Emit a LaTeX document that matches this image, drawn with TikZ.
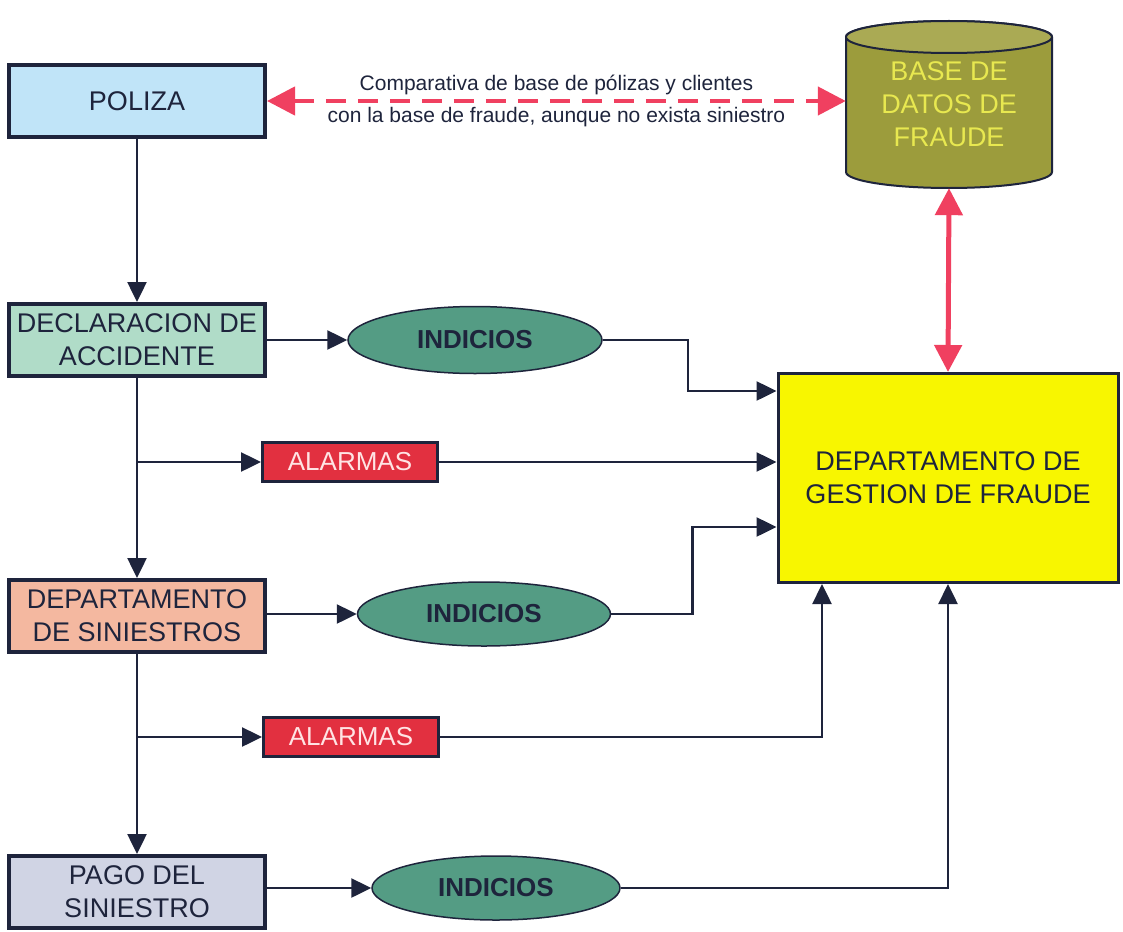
\documentclass[tikz,border=0pt]{standalone}
\usepackage{fontspec}
\setmainfont{Liberation Sans}
\usetikzlibrary{arrows.meta,shapes.geometric}

\definecolor{linecol}{RGB}{30,36,60}
\definecolor{polcol}{RGB}{192,228,248}
\definecolor{declcol}{RGB}{176,220,200}
\definecolor{deptcol}{RGB}{244,184,160}
\definecolor{pagocol}{RGB}{208,212,228}
\definecolor{indcol}{RGB}{84,156,132}
\definecolor{alarmcol}{RGB}{226,48,64}
\definecolor{alarmtext}{RGB}{255,228,228}
\definecolor{gestcol}{RGB}{248,246,0}
\definecolor{dbcol}{RGB}{156,156,60}
\definecolor{dbtop}{RGB}{170,170,84}
\definecolor{dbtext}{RGB}{232,232,80}
\definecolor{redcol}{RGB}{240,64,96}

\begin{document}
\begin{tikzpicture}[x=1pt,y=-1pt,
  box/.style={draw=linecol,line width=4pt,minimum width=256pt,minimum height=72pt,
    inner sep=0pt,align=center,text=linecol,font=\fontsize{27}{33}\selectfont},
  indbox/.style={ellipse,draw=linecol,line width=1.5pt,fill=indcol,inner sep=0pt,
    text=linecol,font=\bfseries\fontsize{26}{30}\selectfont},
  alarmbox/.style={draw=linecol,line width=3pt,fill=alarmcol,minimum width=175pt,
    minimum height=39pt,inner sep=0pt,text=alarmtext,font=\fontsize{26}{30}\selectfont},
  flow/.style={draw=linecol,line width=2.5pt,-{Triangle[length=20pt,width=19pt]}},
  bigred/.style={draw=redcol,line width=5pt,{Triangle[length=27pt,width=27pt]}-{Triangle[length=27pt,width=27pt]}},
  dashred/.style={draw=redcol,line width=4.5pt,dash pattern=on 20pt off 12pt,
    {Triangle[length=28pt,width=28pt]}-{Triangle[length=28pt,width=28pt]}},
  note/.style={inner sep=4pt,text=linecol,font=\fontsize{21}{24}\selectfont}]
\useasboundingbox (0,0) rectangle (1123,931);

% left column
\node[box,fill=polcol] (pol) at (137,101) {POLIZA};
\node[box,fill=declcol] (decl) at (137,340) {DECLARACION DE\\ACCIDENTE};
\node[box,fill=deptcol] (dept) at (137,616) {DEPARTAMENTO\\DE SINIESTROS};
\node[box,fill=pagocol] (pago) at (137,892) {PAGO DEL\\SINIESTRO};

% indicios and alarmas
\node[indbox,minimum width=254pt,minimum height=67pt] (ind1) at (475,340) {INDICIOS};
\node[indbox,minimum width=253pt,minimum height=64pt] (ind2) at (484,614) {INDICIOS};
\node[indbox,minimum width=248pt,minimum height=64pt] (ind3) at (496,888) {INDICIOS};
\node[alarmbox] (al1) at (350,462) {ALARMAS};
\node[alarmbox] (al2) at (351,737) {ALARMAS};

% fraud department
\node[draw=linecol,line width=3pt,fill=gestcol,minimum width=340pt,minimum height=209pt,
  inner sep=0pt,align=center,text=linecol,font=\fontsize{27}{33}\selectfont]
  (gest) at (948,478) {DEPARTAMENTO DE\\GESTION DE FRAUDE};

% fraud database
\filldraw[fill=dbcol,draw=linecol,line width=2pt] (846,37) -- (846,172)
  arc[start angle=180,end angle=360,x radius=103pt,y radius=16pt] -- (1052,37)
  arc[start angle=0,end angle=180,x radius=103pt,y radius=16pt] -- cycle;
\filldraw[fill=dbtop,draw=linecol,line width=2pt] (949,37) ellipse[x radius=103pt,y radius=16pt];
\node[minimum width=206pt,minimum height=167pt,inner sep=0pt,align=center,text=dbtext,
  font=\fontsize{27}{33}\selectfont] (bd) at (949,104.5) {BASE DE\\DATOS DE\\FRAUDE};

% main flow
\draw[flow] (pol.south) -- (decl.north);
\draw[flow] (decl.south) -- (dept.north);
\draw[flow] (dept.south) -- (pago.north);
\coordinate (j1) at (decl.south |- al1.west);
\coordinate (j2) at (dept.south |- al2.west);
\draw[flow] (j1) -- (al1.west);
\draw[flow] (j2) -- (al2.west);
\draw[flow] (decl.east |- ind1.west) -- (ind1.west);
\draw[flow] (dept.east |- ind2.west) -- (ind2.west);
\draw[flow] (pago.east |- ind3.west) -- (ind3.west);

% into the fraud department
\draw[flow] (ind1.east) -- ++(85,0) |- ([yshift=87pt]gest.west);
\draw[flow] (al1.east) -- (al1.east -| gest.west);
\draw[flow] (ind2.east) -- ++(81,0) |- ([yshift=-49pt]gest.west);
\draw[flow] (al2.east) -| ([xshift=-126pt]gest.south);
\draw[flow] (ind3.east) -| (gest.south);

% red links
\draw[bigred] (bd.south) -- (gest.north);
\draw[dashred] (pol.east) -- (pol.east -| bd.west)
  node[note,midway,above] {Comparativa de base de pólizas y clientes}
  node[note,midway,below] {con la base de fraude, aunque no exista siniestro};
\end{tikzpicture}
\end{document}
